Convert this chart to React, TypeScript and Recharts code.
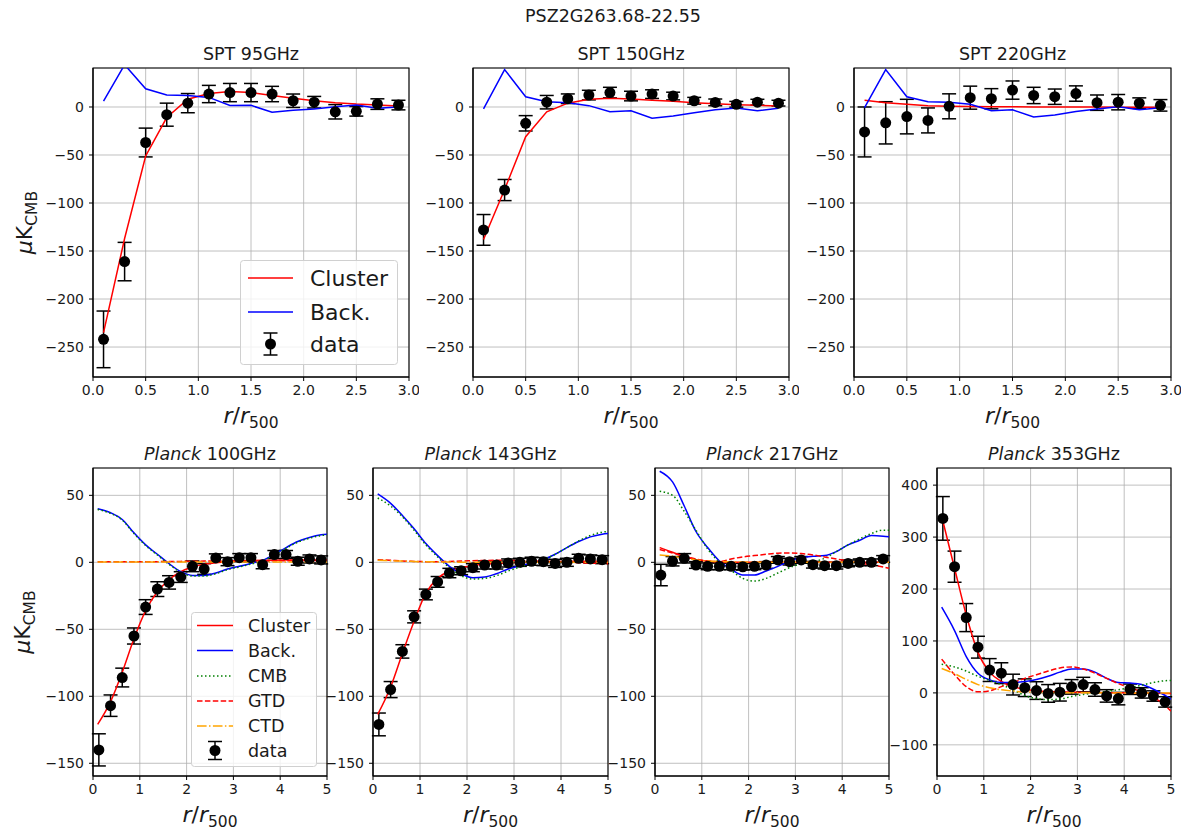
import React from 'react';
import {
  ComposedChart,
  Line,
  Scatter,
  ErrorBar,
  XAxis,
  YAxis,
  CartesianGrid,
  ReferenceArea,
  Legend,
  Label,
} from 'recharts';

const FONT = '"DejaVu Sans", Verdana, sans-serif';
const TEXT = '#1a1a1a';

// ---------- SPT profiles (radial bins in r/r500) ----------
const sptR = [0.1, 0.3, 0.5, 0.7, 0.9, 1.1, 1.3, 1.5, 1.7, 1.9, 2.1, 2.3, 2.5, 2.7, 2.9];

const spt95Data = [-242, -161, -37, -8, 4, 13.5, 15, 15, 13.5, 6.5, 5, -5, -4.5, 3, 2];
const spt95Err = [29.5, 20, 15, 12, 10, 9, 9.5, 9.5, 8, 7, 6, 7.5, 5, 5.5, 5];
const spt95Cluster = [-235, -137, -51, -11, 8, 14, 16, 15, 12, 9, 6.5, 4.5, 3, 2, 1];
const spt95Back = [6, 44, 19, 12.4, 12, 10, 1.5, 1.7, -5.5, -3.5, -2, 0.3, 2, -1.4, 0];

const spt150Data = [-128, -86.5, -17, 5, 8.6, 12.4, 15, 11.4, 13.4, 11.4, 6.5, 4.8, 2.8, 5, 4];
const spt150Err = [16, 11, 8, 7, 5, 5, 5.5, 5, 4.5, 4, 3.5, 3.5, 3, 3, 3];
const spt150Cluster = [-138, -86, -31, -5, 4, 8, 9, 8.3, 7, 6, 4.5, 3.4, 2.4, 1.7, 1];
const spt150Back = [-2, 39, 10.7, 5.5, 4.5, 1.4, -5, -4, -11.7, -9.3, -6, -3, -1, -4, -1.4];

const spt220Data = [-26, -16.5, -10, -14, 0.7, 9.7, 8.6, 17.6, 12, 10.7, 14, 4.5, 5, 4, 1.7];
const spt220Err = [26, 22, 18, 13, 13, 12, 10.5, 9.5, 8.5, 8, 8, 8, 8, 5.5, 6];
const spt220Cluster = [7, 4.5, 2.8, 1.4, 0.7, 0.4, 0.3, 0.2, 0.1, 0, 0, -0.1, -0.2, -0.3, -0.4];
const spt220Back = [-0.7, 39, 10.7, 5.5, 5, 2.8, -3.8, -3, -10.3, -8.3, -4.8, -2, 0.3, -3, -0.7];

// ---------- Planck profiles ----------
const planckR = [
  0.125, 0.375, 0.625, 0.875, 1.125, 1.375, 1.625, 1.875, 2.125, 2.375,
  2.625, 2.875, 3.125, 3.375, 3.625, 3.875, 4.125, 4.375, 4.625, 4.875,
];
// model curves sampling
const modelR = [
  0.1, 0.375, 0.625, 0.875, 1.125, 1.375, 1.625, 1.875, 2.125, 2.375,
  2.625, 2.875, 3.125, 3.375, 3.625, 3.875, 4.125, 4.375, 4.625, 4.875, 5.0,
];

const p100Data = [-140, -107, -86, -55, -33.4, -20, -15, -11, -3, -5, 3.3, 0.5, 3.5, 3.5, -1.8, 5.8, 5.8, 0.8, 2.5, 1.8];
const p100Err = [12, 8, 7, 6, 5.5, 5.5, 5, 4, 4, 4, 3, 3, 3, 3, 3, 3, 3, 3, 3, 3];
const p100Cluster = [-121, -104, -82, -57, -36, -22, -13, -7, -3.5, -1.5, -0.3, 0.5, 1, 1.3, 1.5, 1.6, 1.7, 1.8, 1.8, 1.8, 1.8];
const p100Back = [40, 37, 32, 22, 13, 6, -1, -7, -9.8, -9.8, -8, -5, -3, -0.8, 1.5, 6, 11, 15.5, 18.5, 20.5, 21];
const p100Cmb = [39.5, 36.5, 31.5, 21.5, 12.5, 5.5, -1.5, -7.5, -10.3, -10.3, -8.5, -5.5, -3.5, -1.3, 1, 5.5, 10.5, 15, 18, 20, 20.5];
const p100Gtd = [0.5, 0.5, 0.4, 0.4, 0.4, 0.5, 0.6, 0.7, 0.8, 0.9, 1, 1, 1.1, 1.1, 1.2, 1.2, 1.2, 1.3, 1.3, 1.3, 1.3];
const p100Ctd = [0.2, 0.2, 0.2, 0.2, 0.2, 0.2, 0.2, 0.2, 0.2, 0.2, 0.2, 0.2, 0.2, 0.2, 0.2, 0.2, 0.2, 0.2, 0.2, 0.2, 0.2];

const p143Data = [-121, -95, -66.5, -40.7, -24, -14.6, -8, -6.3, -4, -2, -2, -0.5, 0, 0.8, 0.5, -0.8, 0, 3, 2.5, 2];
const p143Err = [8.5, 6, 5, 4.5, 4, 4, 3.5, 3, 3, 3, 3, 3, 3, 3, 3, 3, 3, 3, 3, 3];
const p143Cluster = [-113.5, -93, -68, -44, -23, -12, -6.5, -4, -2.5, -1.5, -1, -0.5, 0, 0.3, 0.5, 0.6, 0.7, 0.8, 0.8, 0.8, 0.8];
const p143Back = [51, 44, 35, 25, 14, 5, -3, -8.5, -11.5, -11, -8.5, -5, -2.5, -0.7, 2, 6, 11, 15.5, 19, 21, 21.5];
const p143Cmb = [48, 42, 34, 24, 13, 4, -4, -10, -12.5, -12, -10, -6.5, -3.5, -1, 2, 6, 11, 16, 20, 22.5, 23];
const p143Gtd = [2, 1.5, 1, 0.7, 0.5, 0.5, 0.7, 1, 1.2, 1.4, 1.5, 1.4, 1.2, 1, 0.7, 0.3, 0, -0.3, -0.6, -0.9, -1];
const p143Ctd = [1.5, 1.2, 0.9, 0.6, 0.4, 0.3, 0.2, 0.1, 0.1, 0.1, 0, 0, 0, 0, 0, 0, 0, 0, 0, 0, 0];

const p217Data = [-9.5, 0.8, 3, -2, -3, -3, -3, -3.3, -3, -2, 1.8, 0.5, 1.8, -1.8, -2.5, -2.5, -0.8, 0, 0, 2.5];
const p217Err = [8, 3.5, 3.5, 2.5, 2.5, 2.5, 2.5, 2.5, 2.5, 2.5, 2.5, 2.5, 2.5, 2.5, 2.5, 2.5, 2.5, 2.5, 2.5, 2.5];
const p217Cluster = [11, 7.5, 4.5, 2, 0.8, 0.3, 0.1, 0, 0, 0, 0, 0, 0, 0, 0, 0, 0, 0, 0, 0, 0];
const p217Back = [68, 60, 42, 23, 11, 1, -5, -9.5, -9.5, -6.5, -3, 1, 3.5, 4.5, 5, 8, 13, 16.5, 20, 19.5, 19];
const p217Cmb = [53, 50, 38, 24, 10, 0, -6, -12, -14, -12, -8, -4, -1, 0.5, 3, 8, 13, 17.5, 21.5, 24, 24];
const p217Gtd = [9.5, 7, 4.5, 2.5, 1, 0.5, 2.5, 4, 5, 6, 6.8, 7, 6.5, 5.5, 4, 2.5, 1, -0.5, -2, -3.5, -4.5];
const p217Ctd = [5.5, 4.5, 3, 1.8, 1, 0.6, 0.4, 0.2, 0.1, 0.1, 0, 0, 0, 0, 0, 0, 0, 0, 0, 0, 0];

const p353Data = [336, 243, 145, 88, 44, 38, 16, 10, 4.5, -1, 1.3, 11.6, 16, 6.5, -5.8, -11, 7, 0, -6, -17.4];
const p353Err = [42, 30, 27, 21, 22, 20, 20, 17, 17, 17, 17, 14, 14, 13, 12, 12, 10, 10, 10, 10];
const p353Cluster = [340, 240, 150, 78, 40, 22, 12, 7, 4, 2.5, 2, 1.5, 1, 0.8, 0.5, 0.3, 0, -0.3, -0.6, -1, -1];
const p353Back = [165, 120, 70, 38, 25, 20, 20, 22, 26, 32, 40, 46, 46, 40, 28, 20, 19, 16, 7, -5, -12];
const p353Cmb = [55, 50, 42, 32, 24, 16, 6, -5, -11, -13, -12, -7, -3, 0, 3, 6, 10, 15, 20, 23.5, 24];
const p353Gtd = [65, 35, 12, 2, 4, 12, 20, 28, 35, 42, 48, 50, 46, 38, 28, 18, 10, 2, -8, -25, -35];
const p353Ctd = [47, 37, 26, 16, 10, 6, 3.5, 2, 1, 0.6, 0.4, 0.3, 0.2, 0.1, 0, 0, 0, 0, 0, 0, 0];

const sptXTicks = [0, 0.5, 1, 1.5, 2, 2.5, 3];
const sptYTicks = [-250, -200, -150, -100, -50, 0];
const planckXTicks = [0, 1, 2, 3, 4, 5];
const planckYTicks = [-150, -100, -50, 0, 50];
const p353YTicks = [-100, 0, 100, 200, 300, 400];

const SUPTITLE = 'PSZ2G263.68-22.55';

// ---------- helpers ----------
const pts = (xs: number[], ys: number[]) => xs.map((x, i) => ({ x, y: ys[i] }));
const errPts = (xs: number[], ys: number[], es: number[]) =>
  xs.map((x, i) => ({ x, y: ys[i], e: es[i] }));

const fmtY = (v: number) => (v < 0 ? '\u2212' + Math.abs(v) : String(v));
const fmtX1 = (v: number) => v.toFixed(1);
const fmtX0 = (v: number) => String(v);

const RED = '#ff0000';
const BLUE = '#0000ff';
const GREEN = '#008000';
const ORANGE = '#ffa500';

const DOT = '1.5 2.5';
const DASH = '5.5 2.4';
const DASHDOT = '9.6 2.4 1.5 2.4';

type LegendItem = { label: string; kind: 'line' | 'data'; color?: string; dash?: string };

type LegendSpec = {
  left: number;
  top: number;
  width: number;
  height: number;
  fontSize: number;
  rows: number[];
  lineX: [number, number];
  textX: number;
  barHalf: number;
  items: LegendItem[];
};

const LegendBox = ({ spec }: { spec: LegendSpec }) => (
  <svg width={spec.width} height={spec.height} style={{ display: 'block', overflow: 'visible' }}>
    <rect
      x={0.5}
      y={0.5}
      width={spec.width - 1}
      height={spec.height - 1}
      rx={3}
      fill="#ffffff"
      fillOpacity={0.8}
      stroke="#d0d0d0"
      strokeWidth={1}
    />
    {spec.items.map((it, i) => {
      const cy = spec.rows[i];
      const [x0, x1] = spec.lineX;
      const mid = (x0 + x1) / 2;
      return (
        <g key={it.label}>
          {it.kind === 'line' ? (
            <line x1={x0} x2={x1} y1={cy} y2={cy} stroke={it.color} strokeWidth={1.5} strokeDasharray={it.dash} />
          ) : (
            <g>
              <line x1={mid} x2={mid} y1={cy - spec.barHalf} y2={cy + spec.barHalf} stroke="#000" strokeWidth={1.5} />
              <line x1={mid - 7} x2={mid + 7} y1={cy - spec.barHalf} y2={cy - spec.barHalf} stroke="#000" strokeWidth={1.5} />
              <line x1={mid - 7} x2={mid + 7} y1={cy + spec.barHalf} y2={cy + spec.barHalf} stroke="#000" strokeWidth={1.5} />
              <circle cx={mid} cy={cy} r={5.5} fill="#000" />
            </g>
          )}
          <text
            x={spec.textX}
            y={cy}
            dy="0.36em"
            fontSize={spec.fontSize}
            fontFamily={FONT}
            fill={TEXT}
          >
            {it.label}
          </text>
        </g>
      );
    })}
  </svg>
);

type Series = { data: { x: number; y: number }[]; color: string; dash?: string; smooth?: boolean };

type PanelProps = {
  px: number;
  py: number;
  pw: number;
  ph: number;
  xDomain: [number, number];
  yDomain: [number, number];
  xTicks: number[];
  yTicks: number[];
  xFmt: (v: number) => string;
  points: { x: number; y: number; e: number }[];
  series: Series[];
  legend?: LegendSpec;
  yLabelX?: number;
};

const ML = 90; // space left of plot in each chart box
const MT = 30;
const MR = 10;
const MB = 60;
const YW = 50;
const XH = 30;

const XTitle = () => (
  <text x={0} y={0} textAnchor="middle" fontSize={22} fontFamily={FONT} fill={TEXT}>
    <tspan fontStyle="italic">r</tspan>
    <tspan>/</tspan>
    <tspan fontStyle="italic">r</tspan>
    <tspan fontSize={15.5} dy={5}>500</tspan>
  </text>
);

const YTitle = () => (
  <text x={0} y={0} textAnchor="middle" fontSize={22} fontFamily={FONT} fill={TEXT}>
    <tspan fontStyle="italic">μ</tspan>
    <tspan>K</tspan>
    <tspan fontSize={15.5} dy={5}>CMB</tspan>
  </text>
);

const Panel = (p: PanelProps) => {
  const W = p.pw + ML + MR;
  const H = p.ph + MT + MB;
  const xLabel = () => (
    <g transform={`translate(${ML + p.pw / 2}, ${MT + p.ph + 46})`}>
      <XTitle />
    </g>
  );
  const yLabel = () =>
    p.yLabelX !== undefined ? (
      <g transform={`translate(${ML - p.yLabelX}, ${MT + p.ph / 2}) rotate(-90)`}>
        <YTitle />
      </g>
    ) : null;
  return (
    <div style={{ position: 'absolute', left: p.px - ML, top: p.py - MT, width: W, height: H }}>
      <ComposedChart
        width={W}
        height={H}
        margin={{ top: MT, right: MR, bottom: MB - XH, left: ML - YW }}
      >
        <CartesianGrid stroke="#b0b0b0" strokeWidth={0.8} />
        <XAxis
          type="number"
          dataKey="x"
          domain={p.xDomain}
          ticks={p.xTicks}
          tickFormatter={p.xFmt}
          allowDataOverflow
          height={XH}
          interval={0}
          tickSize={4}
          tickMargin={4}
          axisLine={{ stroke: '#000', strokeWidth: 1.1 }}
          tickLine={{ stroke: '#000', strokeWidth: 1 }}
          tick={{ fill: TEXT, fontSize: 14, fontFamily: FONT }}
        >
          <Label content={xLabel} />
        </XAxis>
        <YAxis
          type="number"
          domain={p.yDomain}
          ticks={p.yTicks}
          tickFormatter={fmtY}
          allowDataOverflow
          width={YW}
          interval={0}
          tickSize={4}
          tickMargin={5}
          axisLine={{ stroke: '#000', strokeWidth: 1.1 }}
          tickLine={{ stroke: '#000', strokeWidth: 1 }}
          tick={{ fill: TEXT, fontSize: 14, fontFamily: FONT }}
        >
          <Label content={yLabel} />
        </YAxis>
        <ReferenceArea
          x1={p.xDomain[0]}
          x2={p.xDomain[1]}
          y1={p.yDomain[0]}
          y2={p.yDomain[1]}
          fill="none"
          stroke="#000"
          strokeWidth={1.1}
          ifOverflow="visible"
        />
        <Scatter
          data={p.points}
          dataKey="y"
          fill="#000"
          isAnimationActive={false}
          shape={(s: any) => <circle cx={s.cx} cy={s.cy} r={5.5} fill="#000" />}
        >
          <ErrorBar dataKey="e" direction="y" width={7} stroke="#000" strokeWidth={1.5} isAnimationActive={false} />
        </Scatter>
        {p.series.map((s, i) => (
          <Line
            key={i}
            data={s.data}
            dataKey="y"
            type={s.smooth ? 'monotone' : 'linear'}
            stroke={s.color}
            strokeWidth={1.5}
            strokeDasharray={s.dash}
            dot={false}
            activeDot={false}
            isAnimationActive={false}
          />
        ))}
        {p.legend ? (
          <Legend
            layout="vertical"
            align="center"
            verticalAlign="middle"
            wrapperStyle={{
              position: 'absolute',
              left: p.legend.left,
              top: p.legend.top,
              width: p.legend.width,
              height: p.legend.height,
            }}
            content={() => <LegendBox spec={p.legend as LegendSpec} />}
          />
        ) : null}
      </ComposedChart>
    </div>
  );
};

// ---------- layout ----------
const SPT_Y: [number, number] = [-281.2, 40.6];
const PL_Y: [number, number] = [-159.5, 70.4];
const P353_Y: [number, number] = [-160, 433];

const sptLegendItems: LegendItem[] = [
  { label: 'Cluster', kind: 'line', color: RED },
  { label: 'Back.', kind: 'line', color: BLUE },
  { label: 'data', kind: 'data' },
];

const planckLegendItems: LegendItem[] = [
  { label: 'Cluster', kind: 'line', color: RED },
  { label: 'Back.', kind: 'line', color: BLUE },
  { label: 'CMB', kind: 'line', color: GREEN, dash: DOT },
  { label: 'GTD', kind: 'line', color: RED, dash: DASH },
  { label: 'CTD', kind: 'line', color: ORANGE, dash: DASHDOT },
  { label: 'data', kind: 'data' },
];

const sptLegend: LegendSpec = {
  left: 240 - 93 + ML,
  top: 260 - 68 + MT,
  width: 158,
  height: 105,
  fontSize: 22,
  rows: [18, 52, 84],
  lineX: [8, 53],
  textX: 70,
  barHalf: 11,
  items: sptLegendItems,
};

const planckLegend: LegendSpec = {
  left: 191 - 93 + ML,
  top: 612 - 468 + MT,
  width: 126,
  height: 155,
  fontSize: 17.5,
  rows: [13.5, 38.5, 64, 89, 114, 138.5],
  lineX: [6, 42],
  textX: 57,
  barHalf: 9,
  items: planckLegendItems,
};

const sptSeries = (cluster: number[], back: number[]): Series[] => [
  { data: pts(sptR, cluster), color: RED },
  { data: pts(sptR, back), color: BLUE },
];

const planckSeries = (
  cluster: number[],
  back: number[],
  cmb: number[],
  gtd: number[],
  ctd: number[],
): Series[] => [
  { data: pts(modelR, cluster), color: RED, smooth: true },
  { data: pts(modelR, back), color: BLUE, smooth: true },
  { data: pts(modelR, cmb), color: GREEN, dash: DOT, smooth: true },
  { data: pts(modelR, gtd), color: RED, dash: DASH, smooth: true },
  { data: pts(modelR, ctd), color: ORANGE, dash: DASHDOT, smooth: true },
];

const titleStyle = { fontSize: 17.5, fontFamily: FONT, fill: TEXT } as const;

export default function App() {
  return (
    <div
      style={{
        position: 'absolute',
        left: 0,
        top: 0,
        width: 1191,
        height: 835,
        background: '#ffffff',
        overflow: 'hidden',
      }}
    >
      <svg width={1191} height={835} style={{ position: 'absolute', left: 0, top: 0 }}>
        <text x={613} y={22} textAnchor="middle" {...titleStyle}>{SUPTITLE}</text>
        <text x={251} y={60} textAnchor="middle" {...titleStyle}>SPT 95GHz</text>
        <text x={631} y={60} textAnchor="middle" {...titleStyle}>SPT 150GHz</text>
        <text x={1012.5} y={60} textAnchor="middle" {...titleStyle}>SPT 220GHz</text>
        <text x={210} y={460} textAnchor="middle" {...titleStyle}>
          <tspan fontStyle="italic">Planck</tspan> 100GHz
        </text>
        <text x={490.5} y={460} textAnchor="middle" {...titleStyle}>
          <tspan fontStyle="italic">Planck</tspan> 143GHz
        </text>
        <text x={772} y={460} textAnchor="middle" {...titleStyle}>
          <tspan fontStyle="italic">Planck</tspan> 217GHz
        </text>
        <text x={1054} y={460} textAnchor="middle" {...titleStyle}>
          <tspan fontStyle="italic">Planck</tspan> 353GHz
        </text>
      </svg>

      <Panel
        px={93} py={68} pw={316} ph={309}
        xDomain={[0, 3]} yDomain={SPT_Y}
        xTicks={sptXTicks} yTicks={sptYTicks} xFmt={fmtX1}
        points={errPts(sptR, spt95Data, spt95Err)}
        series={sptSeries(spt95Cluster, spt95Back)}
        legend={sptLegend}
        yLabelX={61}
      />
      <Panel
        px={473} py={68} pw={316} ph={309}
        xDomain={[0, 3]} yDomain={SPT_Y}
        xTicks={sptXTicks} yTicks={sptYTicks} xFmt={fmtX1}
        points={errPts(sptR, spt150Data, spt150Err)}
        series={sptSeries(spt150Cluster, spt150Back)}
      />
      <Panel
        px={854} py={68} pw={317} ph={309}
        xDomain={[0, 3]} yDomain={SPT_Y}
        xTicks={sptXTicks} yTicks={sptYTicks} xFmt={fmtX1}
        points={errPts(sptR, spt220Data, spt220Err)}
        series={sptSeries(spt220Cluster, spt220Back)}
      />

      <Panel
        px={93} py={468} pw={234} ph={308}
        xDomain={[0, 5]} yDomain={PL_Y}
        xTicks={planckXTicks} yTicks={planckYTicks} xFmt={fmtX0}
        points={errPts(planckR, p100Data, p100Err)}
        series={planckSeries(p100Cluster, p100Back, p100Cmb, p100Gtd, p100Ctd)}
        legend={planckLegend}
        yLabelX={63}
      />
      <Panel
        px={373} py={468} pw={235} ph={308}
        xDomain={[0, 5]} yDomain={PL_Y}
        xTicks={planckXTicks} yTicks={planckYTicks} xFmt={fmtX0}
        points={errPts(planckR, p143Data, p143Err)}
        series={planckSeries(p143Cluster, p143Back, p143Cmb, p143Gtd, p143Ctd)}
      />
      <Panel
        px={655} py={468} pw={234} ph={308}
        xDomain={[0, 5]} yDomain={PL_Y}
        xTicks={planckXTicks} yTicks={planckYTicks} xFmt={fmtX0}
        points={errPts(planckR, p217Data, p217Err)}
        series={planckSeries(p217Cluster, p217Back, p217Cmb, p217Gtd, p217Ctd)}
      />
      <Panel
        px={937} py={468} pw={234} ph={308}
        xDomain={[0, 5]} yDomain={P353_Y}
        xTicks={planckXTicks} yTicks={p353YTicks} xFmt={fmtX0}
        points={errPts(planckR, p353Data, p353Err)}
        series={planckSeries(p353Cluster, p353Back, p353Cmb, p353Gtd, p353Ctd)}
      />
    </div>
  );
}
